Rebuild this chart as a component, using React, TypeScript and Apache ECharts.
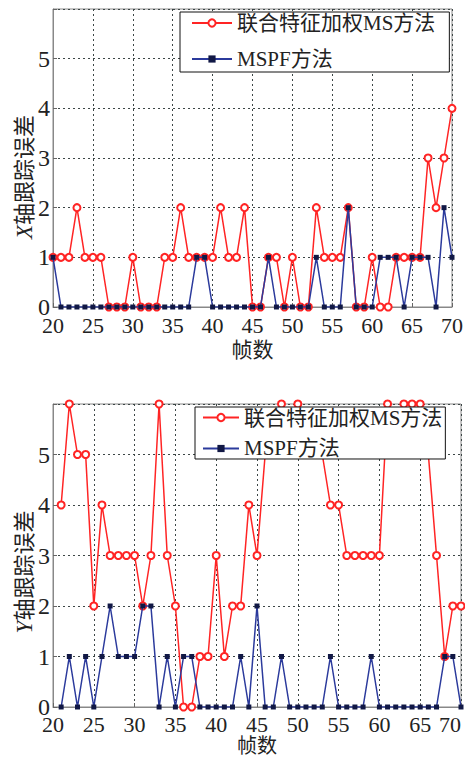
import React, { useEffect, useRef } from "react";
import * as echarts from "echarts";

// ---- data ----
const framesTop = [20, 21, 22, 23, 24, 25, 26, 27, 28, 29, 30, 31, 32, 33, 34, 35, 36, 37, 38, 39, 40, 41, 42, 43, 44, 45, 46, 47, 48, 49, 50, 51, 52, 53, 54, 55, 56, 57, 58, 59, 60, 61, 62, 63, 64, 65, 66, 67, 68, 69, 70];
const xErrJoint = [1, 1, 1, 2, 1, 1, 1, 0, 0, 0, 1, 0, 0, 0, 1, 1, 2, 1, 1, 1, 1, 2, 1, 1, 2, 0, 0, 1, 1, 0, 1, 0, 0, 2, 1, 1, 1, 2, 0, 0, 1, 0, 0, 1, 1, 1, 1, 3, 2, 3, 4];
const xErrMSPF = [1, 0, 0, 0, 0, 0, 0, 0, 0, 0, 0, 0, 0, 0, 0, 0, 0, 0, 1, 1, 0, 0, 0, 0, 0, 0, 0, 1, 0, 0, 0, 0, 0, 1, 0, 0, 0, 2, 0, 0, 0, 1, 1, 1, 0, 1, 1, 1, 0, 2, 1];

const framesBottom = [21, 22, 23, 24, 25, 26, 27, 28, 29, 30, 31, 32, 33, 34, 35, 36, 37, 38, 39, 40, 41, 42, 43, 44, 45, 46, 47, 48, 49, 50, 51, 52, 53, 54, 55, 56, 57, 58, 59, 60, 61, 62, 63, 64, 65, 66, 67, 68, 69, 70];
const yErrJoint = [4, 6, 5, 5, 2, 4, 3, 3, 3, 3, 2, 3, 6, 3, 2, 0, 0, 1, 1, 3, 1, 2, 2, 4, 3, 5, 5, 6, 5, 6, 5, 5, 5, 4, 4, 3, 3, 3, 3, 3, 6, 5, 6, 6, 6, 5, 3, 1, 2, 2];
const yErrMSPF = [0, 1, 0, 1, 0, 1, 2, 1, 1, 1, 2, 2, 0, 1, 0, 1, 1, 0, 0, 0, 0, 0, 1, 0, 2, 0, 0, 1, 0, 0, 0, 0, 0, 1, 0, 0, 0, 0, 1, 0, 0, 0, 0, 0, 0, 0, 0, 1, 1, 0];

const seriesNames = ["联合特征加权MS方法", "MSPF方法"];
const xAxisTitle = "帧数";
const yAxisVars = ["X", "Y"];
const yAxisTitleRest = "轴跟踪误差";

const SERIF = "Liberation Serif";
const MIXED = "Liberation Serif, Noto Sans CJK SC";
const RED = "#ff2424";
const BLUE_LINE = "#2b3a9c";
const BLUE_MARK = "#111845";

const zip = (xs: number[], ys: number[]) => xs.map((x, i) => [x, ys[i]]);

export default function App() {
  const ref = useRef<HTMLDivElement>(null);
  useEffect(() => {
    if (!ref.current) return;
    const chart = echarts.init(ref.current, undefined, { renderer: "svg" });
    const splitLine = { show: true, lineStyle: { color: "#3c4646", type: [2, 3] as any, width: 1 } };
    const mkX = (gi: number, labelSize: number, labelMargin: number, nameGap: number, nameSize: number) => ({
      type: "value",
      gridIndex: gi,
      min: 20,
      max: 70,
      interval: 5,
      axisLine: { show: true, lineStyle: { color: "#888" } },
      axisTick: { show: true, inside: true, length: 4, lineStyle: { color: "#666" } },
      axisLabel: {
        fontSize: labelSize,
        color: "#222",
        fontFamily: SERIF,
        margin: labelMargin,
        showMinLabel: true,
        showMaxLabel: true,
        alignMaxLabel: gi === 1 ? "right" : undefined,
      },
      splitLine,
      name: xAxisTitle,
      nameLocation: "middle",
      nameGap,
      nameMoveOverlap: false,
      nameTextStyle: { fontSize: nameSize, color: "#222", fontFamily: MIXED },
    });
    const mkY = (gi: number) => ({
      type: "value",
      gridIndex: gi,
      min: 0,
      max: 6,
      interval: 1,
      axisLine: { show: true, lineStyle: { color: "#888" } },
      axisTick: { show: true, inside: true, length: 4, lineStyle: { color: "#666" } },
      axisLabel: {
        fontSize: 24,
        color: "#222",
        fontFamily: SERIF,
        margin: 3,
        formatter: (v: number) => (v === 6 ? "" : String(v)),
      },
      splitLine,
    });
    const legendBase = {
      orient: "vertical",
      data: seriesNames,
      itemHeight: 9,
      borderColor: "#111",
      borderWidth: 1,
      borderRadius: 0,
      backgroundColor: "#fff",
      textStyle: { fontSize: 21, fontFamily: MIXED, color: "#222" },
    };
    const mkSeries = (gi: number, frames: number[], joint: number[], mspf: number[]) => [
      {
        type: "line",
        name: seriesNames[0],
        xAxisIndex: gi,
        yAxisIndex: gi,
        data: zip(frames, joint),
        symbol: "emptyCircle",
        symbolSize: 7,
        lineStyle: { color: RED, width: 1.5 },
        itemStyle: { color: RED, borderWidth: 1.3 },
        z: 2,
      },
      {
        type: "line",
        name: seriesNames[1],
        xAxisIndex: gi,
        yAxisIndex: gi,
        data: zip(frames, mspf),
        symbol: "rect",
        symbolSize: 5,
        lineStyle: { color: BLUE_LINE, width: 1.5 },
        itemStyle: { color: BLUE_MARK },
        z: 3,
      },
    ];
    const yTitle = (i: number, x: number, y: number) => ({
      type: "text",
      x,
      y,
      rotation: Math.PI / 2,
      style: {
        text: `{i|${yAxisVars[i]}}{t|${yAxisTitleRest}}`,
        align: "center",
        verticalAlign: "middle",
        fontSize: 22,
        fill: "#222",
        rich: {
          i: { fontStyle: "italic", fontSize: 23, fontFamily: SERIF, fill: "#222", color: "#222" },
          t: { fontSize: 22, fontFamily: MIXED, fill: "#222", color: "#222" },
        },
      },
    });
    chart.setOption({
      animation: false,
      backgroundColor: "#fff",
      grid: [
        { left: 53, top: 9, width: 399, height: 298, show: true, borderColor: "#888", borderWidth: 1, outerBoundsMode: "none", containLabel: false },
        { left: 53, top: 404, width: 408, height: 303, show: true, borderColor: "#888", borderWidth: 1, outerBoundsMode: "none", containLabel: false },
      ],
      xAxis: [mkX(0, 22, 7, 32, 21), mkX(1, 22, 6, 29, 20)],
      yAxis: [mkY(0), mkY(1)],
      legend: [
        {
          ...legendBase,
          left: 180,
          top: 12,
          itemWidth: 40,
          itemGap: 14,
          padding: [0, 14, 2, 11],
          textStyle: { ...legendBase.textStyle, lineHeight: 22 },
        },
        {
          ...legendBase,
          left: 195,
          top: 407,
          itemWidth: 36,
          itemGap: 10,
          padding: [0, 3, 0, 7],
          textStyle: { ...legendBase.textStyle, lineHeight: 18 },
        },
      ],
      graphic: [yTitle(0, 24, 177), yTitle(1, 24, 572)],
      series: [...mkSeries(0, framesTop, xErrJoint, xErrMSPF), ...mkSeries(1, framesBottom, yErrJoint, yErrMSPF)],
    });
    return () => chart.dispose();
  }, []);
  return (
    <div
      ref={ref}
      style={{ position: "fixed", left: 0, top: 0, width: 465, height: 757, background: "#fff" }}
    />
  );
}
